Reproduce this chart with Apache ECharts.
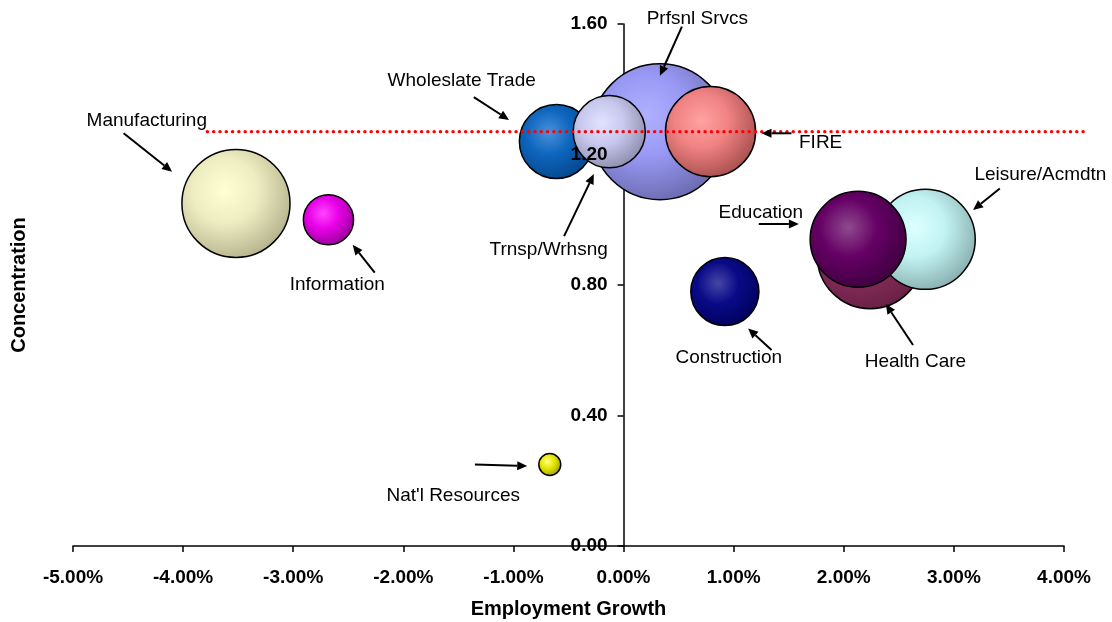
<!DOCTYPE html>
<html><head><meta charset="utf-8">
<script src="https://cdn.jsdelivr.net/npm/echarts@6/dist/echarts.min.js"></script>
<style>html,body{margin:0;padding:0;background:#fff}#c{width:1112px;height:622px}</style>
</head><body><div id="c"></div>
<script>
// ---- data ----
const sectors = ['Manufacturing', 'Information', "Nat'l Resources", 'Construction', 'Prfsnl Srvcs',
  'Wholeslate Trade', 'Trnsp/Wrhsng', 'FIRE', 'Health Care', 'Leisure/Acmdtn', 'Education'];
const growth = [-3.52, -2.68, -0.67, 0.92, 0.33, -0.61, -0.13, 0.79, 2.24, 2.74, 2.13];      // %
const concentration = [1.05, 1.00, 0.25, 0.78, 1.27, 1.24, 1.27, 1.27, 0.89, 0.94, 0.94];
const bubbleSize = [29.2, 6.3, 1.2, 11.6, 46.2, 13.7, 13.0, 20.3, 28.1, 25.0, 23.0];
const refLevel = 1.27;
const refRange = [-3.78, 4.19];
const xTickLabels = ['-5.00%', '-4.00%', '-3.00%', '-2.00%', '-1.00%', '0.00%', '1.00%', '2.00%', '3.00%', '4.00%'];
const yTickLabels = ['0.00', '0.40', '0.80', '1.20', '1.60'];

// annotation layout (data units): label anchor and arrow from -> to
const annotations = [
  { text: 'Manufacturing', at: [-4.33, 1.303], from: [-4.54, 1.265], to: [-4.10, 1.147] },
  { text: 'Information', at: [-2.60, 0.800], from: [-2.26, 0.838], to: [-2.46, 0.923] },
  { text: 'Wholeslate Trade', at: [-1.47, 1.425], from: [-1.36, 1.376], to: [-1.04, 1.306] },
  { text: 'Prfsnl Srvcs', at: [0.67, 1.615], from: [0.53, 1.592], to: [0.33, 1.441] },
  { text: 'FIRE', at: [1.79, 1.235], from: [1.525, 1.265], to: [1.253, 1.265] },
  { text: 'Trnsp/Wrhsng', at: [-0.68, 0.907], from: [-0.54, 0.950], to: [-0.27, 1.140] },
  { text: 'Education', at: [1.247, 1.021], from: [1.228, 0.987], to: [1.592, 0.987] },
  { text: 'Leisure/Acmdtn', at: [3.786, 1.137], from: [3.417, 1.096], to: [3.174, 1.030] },
  { text: 'Health Care', at: [2.651, 0.565], from: [2.629, 0.616], to: [2.381, 0.742] },
  { text: 'Construction', at: [0.956, 0.576], from: [1.344, 0.601], to: [1.131, 0.667] },
  { text: "Nat'l Resources", at: [-1.547, 0.153], from: [-1.350, 0.250], to: [-0.875, 0.245] }
];

// ---- styles ----
const palette = {
  'Manufacturing': ['#FFFFD4', '#EEEDC2', '#B3B28C'],
  'Information': ['#FF44FF', '#E800E8', '#960096'],
  "Nat'l Resources": ['#FFFF88', '#E6E600', '#9C9C00'],
  'Construction': ['#4646A6', '#0A0A88', '#00005C'],
  'Prfsnl Srvcs': ['#B0B0FF', '#9999F5', '#6A6AAE'],
  'Wholeslate Trade': ['#4A90DA', '#0E66BE', '#04468C'],
  'Trnsp/Wrhsng': ['#E2E2FF', '#C8C8EE', '#8C8CAC'],
  'FIRE': ['#FFA2A2', '#F08282', '#A64E4E'],
  'Health Care': ['#A64878', '#8A2E5C', '#682044'],
  'Leisure/Acmdtn': ['#DCFFFF', '#C2F2F2', '#88AEAE'],
  'Education': ['#8E4A8E', '#660066', '#3E003E']
};
function grad(c) {
  return { type: 'radial', x: 0.4, y: 0.38, r: 0.66,
    colorStops: [{ offset: 0, color: c[0] }, { offset: 0.45, color: c[1] }, { offset: 1, color: c[2] }] };
}

const FONT = '"Liberation Sans", Arial, sans-serif';
const bubbleData = sectors.map((s, i) => ({
  name: s,
  value: [growth[i], concentration[i], bubbleSize[i]],
  itemStyle: { color: grad(palette[s]), borderColor: '#000', borderWidth: 1.5, opacity: 1 }
}));

const chart = echarts.init(document.getElementById('c'), null, { renderer: 'canvas' });
const tickText = { color: '#000', fontWeight: 'bold', fontSize: 19, fontFamily: FONT };
const titleText = { color: '#000', fontWeight: 'bold', fontSize: 20, fontFamily: FONT };
const GRID_LEFT = 73;
chart.setOption({
  animation: false,
  backgroundColor: '#fff',
  grid: { left: GRID_LEFT, right: 48, top: 24, bottom: 76, containLabel: false, outerBoundsMode: 'none' },
  xAxis: {
    type: 'value', min: -5, max: 4, interval: 1,
    axisLine: { onZero: true, lineStyle: { color: '#000', width: 1.5 } },
    axisTick: { show: true, length: 6, lineStyle: { color: '#000', width: 1.5 } },
    axisLabel: Object.assign({ margin: 22, formatter: (v) => xTickLabels[Math.round(v + 5)] }, tickText),
    splitLine: { show: false },
    name: 'Employment Growth', nameLocation: 'middle', nameGap: 53,
    nameTextStyle: titleText
  },
  yAxis: [
    {
      type: 'value', min: 0, max: 1.6, interval: 0.4, z: 0, position: 'left',
      axisLine: { show: true, onZero: true, lineStyle: { color: '#000', width: 1.5 } },
      axisTick: { show: true, length: 6, lineStyle: { color: '#000', width: 1.5 } },
      axisLabel: { show: false },
      splitLine: { show: false }
    },
    {
      // tick labels drawn above the bubbles, moved onto the zero line below
      type: 'value', min: 0, max: 1.6, interval: 0.4, z: 10, position: 'left', offset: 0,
      axisLine: { show: false, onZero: false },
      axisTick: { show: false },
      axisLabel: Object.assign({ margin: 16, formatter: (v) => yTickLabels[Math.round(v / 0.4)] }, tickText),
      splitLine: { show: false }
    },
    {
      type: 'value', min: 0, max: 1.6, interval: 0.4, position: 'left', offset: 0,
      axisLine: { show: false, onZero: false },
      axisTick: { show: false },
      axisLabel: { show: false },
      splitLine: { show: false },
      name: 'Concentration', nameLocation: 'middle', nameGap: 44, nameRotate: 90,
      nameTextStyle: titleText
    }
  ],
  series: [
    {
      type: 'scatter', z: 2, xAxisIndex: 0, yAxisIndex: 0,
      data: bubbleData,
      symbol: 'circle',
      symbolSize: (val) => 20 * Math.sqrt(val[2]),
      emphasis: { disabled: true }
    }
  ]
});

// reference line and annotations, converted through the chart's own scales
const toPx = (p) => chart.convertToPixel({ xAxisIndex: 0, yAxisIndex: 0 }, p);
const zeroX = toPx([0, 0])[0];
chart.setOption({ yAxis: [{}, { offset: -(zeroX - GRID_LEFT) }, {}] });

const graphics = [];
const r0 = toPx([refRange[0], refLevel]), r1 = toPx([refRange[1], refLevel]);
graphics.push({ type: 'line', z: 50, silent: true, shape: { x1: r0[0], y1: r0[1], x2: r1[0], y2: r1[1] },
  style: { stroke: '#FF0000', lineWidth: 3.4, lineDash: [0.1, 6.2], lineCap: 'round' } });
annotations.forEach((a) => {
  const t = toPx(a.at), p1 = toPx(a.from), p2 = toPx(a.to);
  const dx = p2[0] - p1[0], dy = p2[1] - p1[1];
  const L = Math.sqrt(dx * dx + dy * dy), ux = dx / L, uy = dy / L;
  const hl = 10, hw = 4.5;
  const bx = p2[0] - ux * hl, by = p2[1] - uy * hl;
  graphics.push({ type: 'line', z: 100, silent: true, shape: { x1: p1[0], y1: p1[1], x2: bx, y2: by },
    style: { stroke: '#000', lineWidth: 2 } });
  graphics.push({ type: 'polygon', z: 100, silent: true, shape: { points: [
    [p2[0], p2[1]], [bx - uy * hw, by + ux * hw], [bx + uy * hw, by - ux * hw]] },
    style: { fill: '#000' } });
  graphics.push({ type: 'text', z: 100, silent: true, x: t[0], y: t[1],
    style: { text: a.text, fill: '#000', fontSize: 19, fontFamily: FONT, align: 'center', verticalAlign: 'middle' } });
});
chart.setOption({ graphic: graphics });
</script>
</body></html>
